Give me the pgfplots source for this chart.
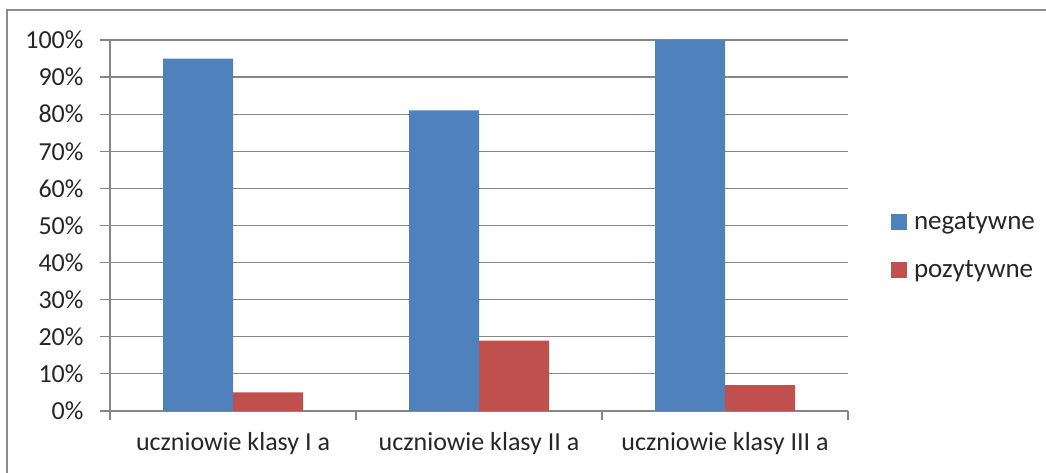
\documentclass[border=0pt]{standalone}
\usepackage{pgfplots}
\pgfplotsset{compat=1.18}
\usepackage{fontspec}
\setmainfont{Carlito}
\definecolor{barblue}{HTML}{4F81BD}
\definecolor{barred}{HTML}{C0504D}
\definecolor{gridgray}{HTML}{868686}
\definecolor{framegray}{HTML}{8C8C8C}
\begin{document}
\begin{tikzpicture}[x=1pt,y=1pt]
\path[use as bounding box] (0,0) rectangle (1046,473);
\begin{scope}
\clip (0,0) rectangle (1046,473);
\draw[framegray, line width=2.5pt] (7,-20) -- (7,463) -- (1070,463);
\end{scope}
\begin{axis}[
  at={(110pt,62pt)}, anchor=south west,
  scale only axis, width=738pt, height=371pt,
  ybar, bar width=70pt,
  xmin=-0.5, xmax=2.5, ymin=0, ymax=100,
  axis x line*=bottom, axis y line*=left,
  axis line style={gridgray, line width=1.2pt, -},
  xtick={0,1,2},
  xticklabels={uczniowie klasy I a, uczniowie klasy II a, uczniowie klasy III a},
  minor xtick={-0.5,0.5,1.5,2.5},
  major x tick style={draw=none},
  minor x tick style={gridgray, line width=1.2pt},
  minor tick length=9pt,
  ytick={0,10,...,100},
  yticklabel={\pgfmathprintnumber{\tick}\%},
  y tick style={gridgray, line width=1.2pt},
  major tick length=10pt,
  tick align=outside,
  ymajorgrids, grid style={gridgray, line width=1.2pt},
  /pgf/number format/assume math mode=true,
  tick label style={font=\fontsize{26}{30}\selectfont, text=black!85},
  yticklabel style={xshift=-13pt},
  xticklabel style={yshift=-8pt},
  legend style={draw=none, fill=none, at={(1.054,0.445)}, anchor=west,
    font=\fontsize{27}{30}\selectfont, text=black!85, row sep=25pt,
    legend cell align=left,
    /tikz/every odd column/.style={column sep=5pt}},
]
\addplot[fill=barblue, draw=none, bar shift=-35pt,
  legend image code/.code={\fill[barblue] (0pt,-8pt) rectangle (16pt,8pt);}]
  coordinates {(0,95) (1,81) (2,100)};
\addlegendentry{negatywne}
\addplot[fill=barred, draw=none, bar shift=35pt,
  legend image code/.code={\fill[barred] (0pt,-8pt) rectangle (16pt,8pt);}]
  coordinates {(0,5) (1,19) (2,7)};
\addlegendentry{pozytywne}
\end{axis}
\end{tikzpicture}
\end{document}
